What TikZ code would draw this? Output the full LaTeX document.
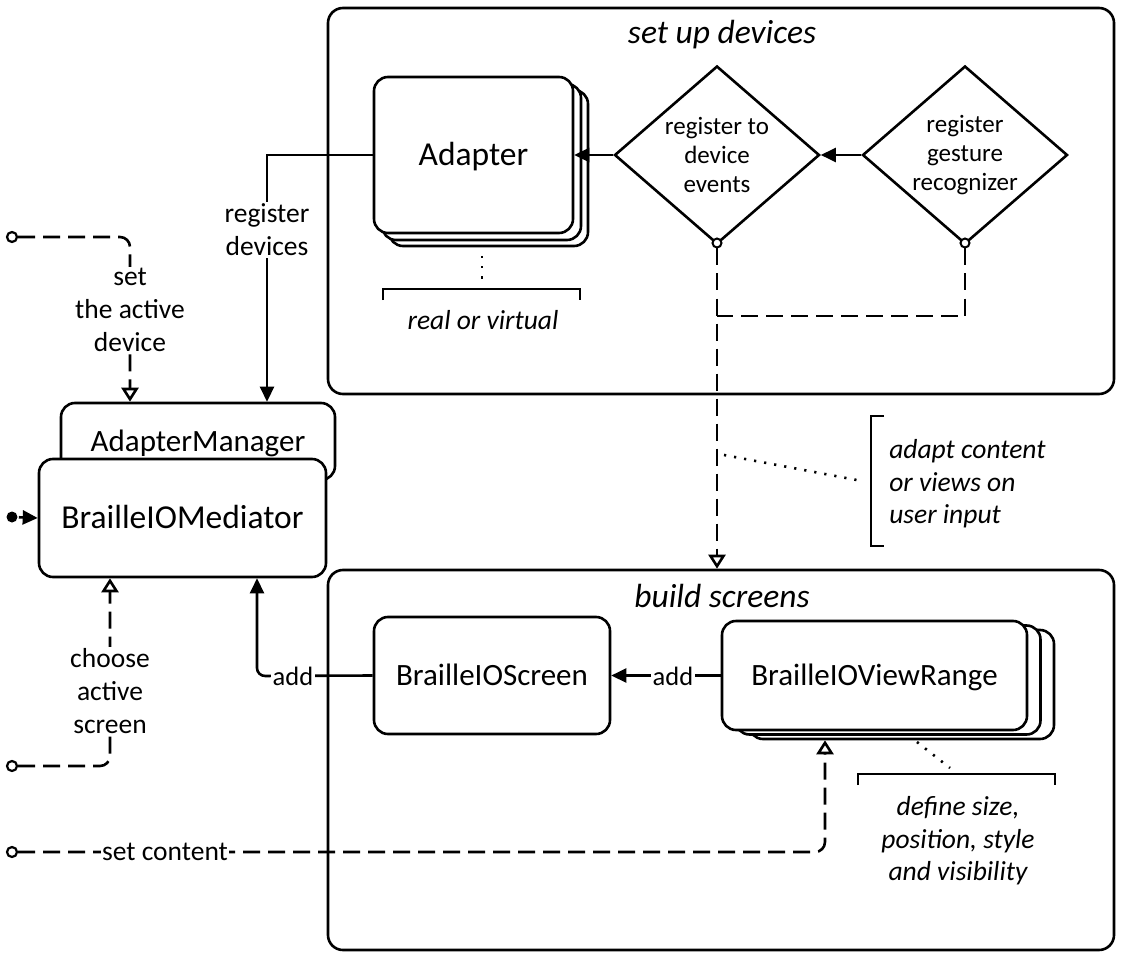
\documentclass[tikz,border=0pt]{standalone}
\usepackage{fontspec}
\setmainfont{Carlito}
\usetikzlibrary{arrows.meta,shapes.geometric,calc}
\begin{document}
\begin{tikzpicture}[x=1pt,y=-1pt,line width=2.6pt,
  container/.style={draw,rounded corners=15pt,inner sep=0pt},
  box/.style={draw,rounded corners=14pt,fill=white,inner sep=0pt,text height=22.7pt,text depth=2.7pt,font=\fontsize{31}{33}\selectfont},
  bigbox/.style={box,text height=24.3pt,font=\fontsize{33.5}{36}\selectfont},
  dia/.style={draw,diamond,shape aspect=1.15,fill=white,inner sep=-4pt,align=center,font=\fontsize{25}{29}\selectfont},
  lbl/.style={fill=white,inner sep=1.5pt,align=center,font=\fontsize{27.5}{33}\selectfont},
  note/.style={inner sep=0pt,font=\itshape\fontsize{27.5}{32.5}\selectfont},
  ttl/.style={inner sep=0pt,font=\itshape\fontsize{33.5}{36}\selectfont},
  farrow/.style={-{Triangle[length=15pt,width=14pt]}},
  oarrow/.style={-{Triangle[open,length=14pt,width=17pt,fill=white]}},
  dashline/.style={dash pattern=on 17pt off 8pt},
  dotline/.style={dash pattern=on 2.2pt off 8pt},
  startpt/.style={circle,draw,fill=white,inner sep=0pt,minimum size=10pt,line width=2.2pt},
  smallc/.style={circle,draw,fill=white,inner sep=0pt,minimum size=9pt,line width=2pt}
]
\useasboundingbox (0,0) rectangle (1123,957);
% containers
\node[container,minimum width=786pt,minimum height=386pt] (top) at (721,201) {};
\node[container,minimum width=786pt,minimum height=380pt] (bot) at (721,760) {};
\node[ttl] (ttop) at (722,35) {set up devices};
\node[ttl] (tbot) at (722,596) {build screens};
% adapter stack
\node[box,minimum width=199pt,minimum height=156pt] (adB2) at (488.5,168) {};
\node[box,minimum width=199pt,minimum height=156pt] (adB1) at (481.5,162) {};
\node[bigbox,minimum width=199pt,minimum height=156pt] (ad) at (473.5,155) {Adapter};
% diamonds
\node[dia,minimum width=205pt,minimum height=178pt] (d1) at (717,155) {register to\\device\\events};
\node[dia,minimum width=205pt,minimum height=178pt] (d2) at (965,155) {register\\gesture\\recognizer};
\node[smallc] (c1) at (717,243) {};
\node[smallc] (c2) at (965,243) {};
% manager and mediator
\node[box,minimum width=274pt,minimum height=77pt] (am) at (198,441.5) {AdapterManager};
\node[bigbox,minimum width=287pt,minimum height=118pt] (med) at (182.5,518) {BrailleIOMediator};
% screens
\node[box,minimum width=236pt,minimum height=117pt] (scr) at (492,675.5) {BrailleIOScreen};
\node[box,minimum width=305pt,minimum height=109pt] (vrB2) at (901.5,684.5) {};
\node[box,minimum width=305pt,minimum height=109pt] (vrB1) at (888,680) {};
\node[box,minimum width=305pt,minimum height=109pt] (vr) at (874.5,675.5) {BrailleIOViewRange};
% start points
\node[startpt] (s1) at (12,237) {};
\node[startpt] (s2) at (12,766) {};
\node[startpt] (s3) at (12,852) {};
\node[circle,fill,inner sep=0pt,minimum size=11pt] (ini) at (12,517) {};
% coordinates
\coordinate (rd1) at (267,155);
\coordinate (sa1) at (130,237);
\coordinate (cs1) at (110,766);
\coordinate (sc1) at (825,852);
\coordinate (ad1) at (257,676);
\coordinate (j) at (717,316);
% connectors
\draw[farrow] (d2.west) -- (d1.east);
\draw[farrow] (d1.west) -- (ad.east);
\draw[farrow] (ad.west) -- (rd1) -- (am.north -| rd1);
\node[lbl] (lrd) at (267,230) {register\\devices};
\draw[farrow] (ini) -- (med.west);
\draw[dashline,oarrow,rounded corners=10pt] (s1.east) -- (sa1) -- (am.north -| sa1);
\node[lbl] (lsa) at (130,310) {set\\the active\\device};
\draw[dashline,oarrow,rounded corners=10pt] (s2.east) -- (cs1) -- (med.south -| cs1);
\node[lbl] (lcs) at (110,691) {choose\\active\\screen};
\draw[dashline,oarrow,rounded corners=10pt] (s3.east) -- (sc1) -- (vrB2.south -| sc1);
\node[lbl] (lsc) at (165,852) {set content};
\draw[farrow,rounded corners=8pt] (scr.west) -- (ad1) -- (med.south -| ad1);
\node[lbl,font=\fontsize{26.5}{33}\selectfont] (lad1) at (293,676) {add};
\draw[farrow] (vr.west) -- (scr.east);
\node[lbl,font=\fontsize{26.5}{33}\selectfont] (lad2) at (673,676) {add};
\draw[dashline] (c2.south) |- (j);
\draw[dashline,oarrow] (c1.south) -- (c1.south |- bot.north);
% annotation: real or virtual
\coordinate (n1a) at (482,256);
\coordinate (n1b) at (482,282);
\draw[dotline] (n1a) -- (n1b);
\coordinate (b1l) at (383,289);
\coordinate (b1r) at (580,289);
\draw (b1l) ++(0,11) -- (b1l) -- (b1r) -- ++(0,11);
\node[note] (nrv) at (483,320) {real or virtual};
% annotation: adapt content
\coordinate (n2a) at (724,455);
\coordinate (n2b) at (862,481);
\draw[dotline] (n2a) -- (n2b);
\coordinate (b2t) at (871,416);
\coordinate (b2b) at (871,546);
\draw (b2t) ++(13,0) -- (b2t) -- (b2b) -- ++(13,0);
\node[note,anchor=west,align=left] (nac) at (888,484) {adapt content\\or views on\\user input};
% annotation: define size
\coordinate (n3a) at (917,742);
\coordinate (n3b) at (950,768);
\draw[dotline] (n3a) -- (n3b);
\coordinate (b3l) at (858,774);
\coordinate (b3r) at (1055,774);
\draw (b3l) ++(0,11) -- (b3l) -- (b3r) -- ++(0,11);
\node[note,align=center] (nds) at (958,841) {define size,\\position, style\\and visibility};
\end{tikzpicture}
\end{document}
